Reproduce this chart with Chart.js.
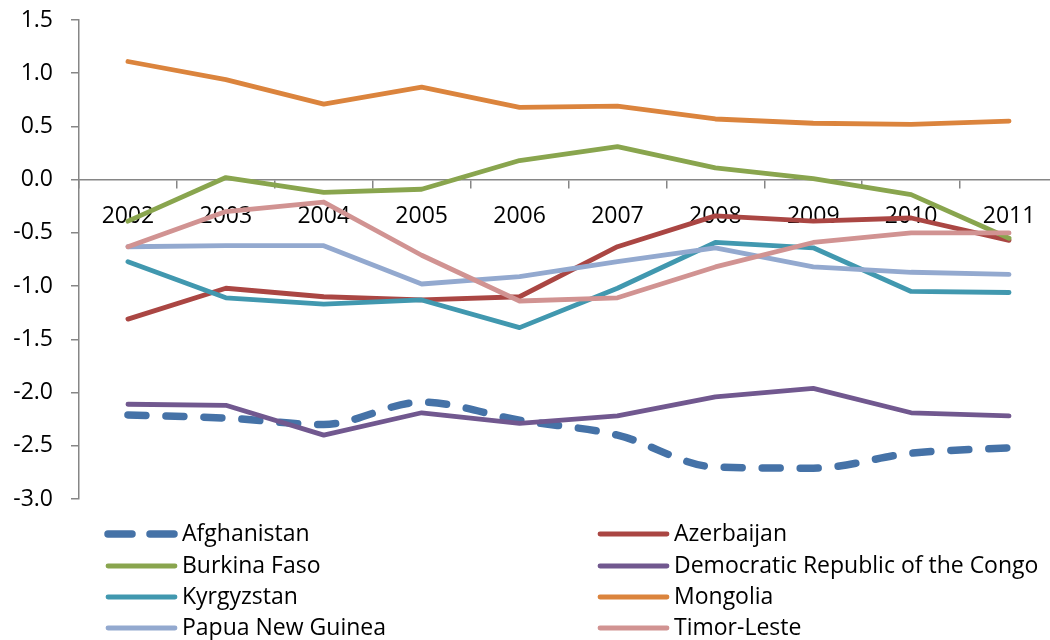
<!DOCTYPE html>
<html>
<head>
<meta charset="utf-8">
<script src="https://cdn.jsdelivr.net/npm/chart.js@4/dist/chart.umd.min.js"></script>
<style>
  html, body { margin: 0; padding: 0; background: #fff; overflow: hidden; }
  canvas { display: block; }
</style>
</head>
<body>
<canvas id="lineChart" width="1060" height="640"></canvas>
<script>
// Dados (2002-2011)
const years = ['2002', '2003', '2004', '2005', '2006', '2007', '2008', '2009', '2010', '2011'];

const afghanistan = [-2.21, -2.24, -2.30, -2.09, -2.26, -2.40, -2.70, -2.71, -2.57, -2.52];
const azerbaijan  = [-1.31, -1.02, -1.10, -1.13, -1.10, -0.63, -0.34, -0.39, -0.36, -0.57];
const burkinaFaso = [-0.39, 0.02, -0.12, -0.09, 0.18, 0.31, 0.11, 0.01, -0.14, -0.55];
const drCongo     = [-2.11, -2.12, -2.40, -2.19, -2.29, -2.22, -2.04, -1.96, -2.19, -2.22];
const kyrgyzstan  = [-0.77, -1.11, -1.17, -1.13, -1.39, -1.02, -0.59, -0.64, -1.05, -1.06];
const mongolia    = [1.11, 0.94, 0.71, 0.87, 0.68, 0.69, 0.57, 0.53, 0.52, 0.55];
const papuaNG     = [-0.63, -0.62, -0.62, -0.98, -0.91, -0.77, -0.64, -0.82, -0.87, -0.89];
const timorLeste  = [-0.63, -0.30, -0.21, -0.71, -1.14, -1.11, -0.82, -0.59, -0.50, -0.50];

const seriesNames = ['Afghanistan', 'Azerbaijan', 'Burkina Faso', 'Democratic Republic of the Congo',
    'Kyrgyzstan', 'Mongolia', 'Papua New Guinea', 'Timor-Leste'];
const seriesValues = [afghanistan, azerbaijan, burkinaFaso, drCongo, kyrgyzstan, mongolia, papuaNG, timorLeste];
const seriesColors = ['#4572A7', '#AA4643', '#89A54E', '#71588F', '#4198AF', '#DB843D', '#93A9CF', '#D19392'];

const axisColor = '#868686';
const fontFamily = "'Open Sans', 'Noto Sans', sans-serif";

const datasets = seriesNames.map((name, i) => {
    const isDashed = i === 0;
    return {
        label: name,
        data: seriesValues[i],
        borderColor: seriesColors[i],
        backgroundColor: seriesColors[i],
        borderWidth: isDashed ? 7.5 : 4.8,
        borderDash: isDashed ? [18, 20] : [],
        borderCapStyle: 'round',
        borderJoinStyle: 'round',
        cubicInterpolationMode: isDashed ? 'monotone' : 'default',
        tension: isDashed ? 0.4 : 0,
        pointRadius: 0,
        fill: false,
        order: seriesNames.length - i, // última série desenhada por cima
    };
});

// Legenda em duas colunas desenhada no canvas
const twoColumnLegend = {
    id: 'twoColumnLegend',
    afterDraw(chart) {
        const ctx = chart.ctx;
        const colX = [105, 597];
        const rowY = [534, 566, 597, 628];
        ctx.save();
        ctx.font = '23px ' + fontFamily;
        ctx.textBaseline = 'middle';
        ctx.fillStyle = '#000';
        chart.data.datasets.forEach((ds, i) => {
            const x = colX[i % 2];
            const y = rowY[Math.floor(i / 2)];
            ctx.beginPath();
            ctx.strokeStyle = ds.borderColor;
            ctx.lineWidth = ds.borderWidth;
            ctx.lineCap = 'round';
            ctx.setLineDash(ds.borderDash.length ? [24, 18] : []);
            ctx.moveTo(x + 3, y);
            ctx.lineTo(x + 70, y);
            ctx.stroke();
            ctx.setLineDash([]);
            ctx.fillText(ds.label, x + 77, y);
        });
        ctx.restore();
    }
};

const ctx = document.querySelector('#lineChart').getContext('2d');

const lineChart = new Chart(ctx, {
    type: 'line',
    data: {
        labels: years,
        datasets: datasets,
    },
    options: {
        responsive: false,
        animation: false,
        devicePixelRatio: 1,
        layout: { padding: { top: 20, right: 2, bottom: 141, left: 0 } },
        plugins: {
            legend: { display: false },
            tooltip: { enabled: false },
        },
        scales: {
            x: {
                type: 'category',
                position: { y: 0 },
                offset: true,
                grid: {
                    offset: true,
                    drawOnChartArea: false,
                    drawTicks: true,
                    tickLength: 8,
                    color: axisColor,
                    lineWidth: 1.5,
                },
                border: { display: true, color: axisColor, width: 1.5 },
                ticks: {
                    color: '#000',
                    font: { family: fontFamily, size: 23 },
                    padding: 15,
                    maxRotation: 0,
                    autoSkip: false,
                },
            },
            y: {
                min: -3,
                max: 1.5,
                afterFit: scale => {
                    scale.width = 79;
                    scale.paddingTop = 0;
                    scale.paddingBottom = 0;
                },
                grid: {
                    drawOnChartArea: false,
                    drawTicks: true,
                    tickLength: 8,
                    color: axisColor,
                    lineWidth: 1.5,
                },
                border: { display: true, color: axisColor, width: 1.5 },
                ticks: {
                    stepSize: 0.5,
                    color: '#000',
                    font: { family: fontFamily, size: 23 },
                    padding: 18,
                    callback: v => v.toFixed(1),
                },
            },
        },
    },
    plugins: [twoColumnLegend],
});
</script>
</body>
</html>
